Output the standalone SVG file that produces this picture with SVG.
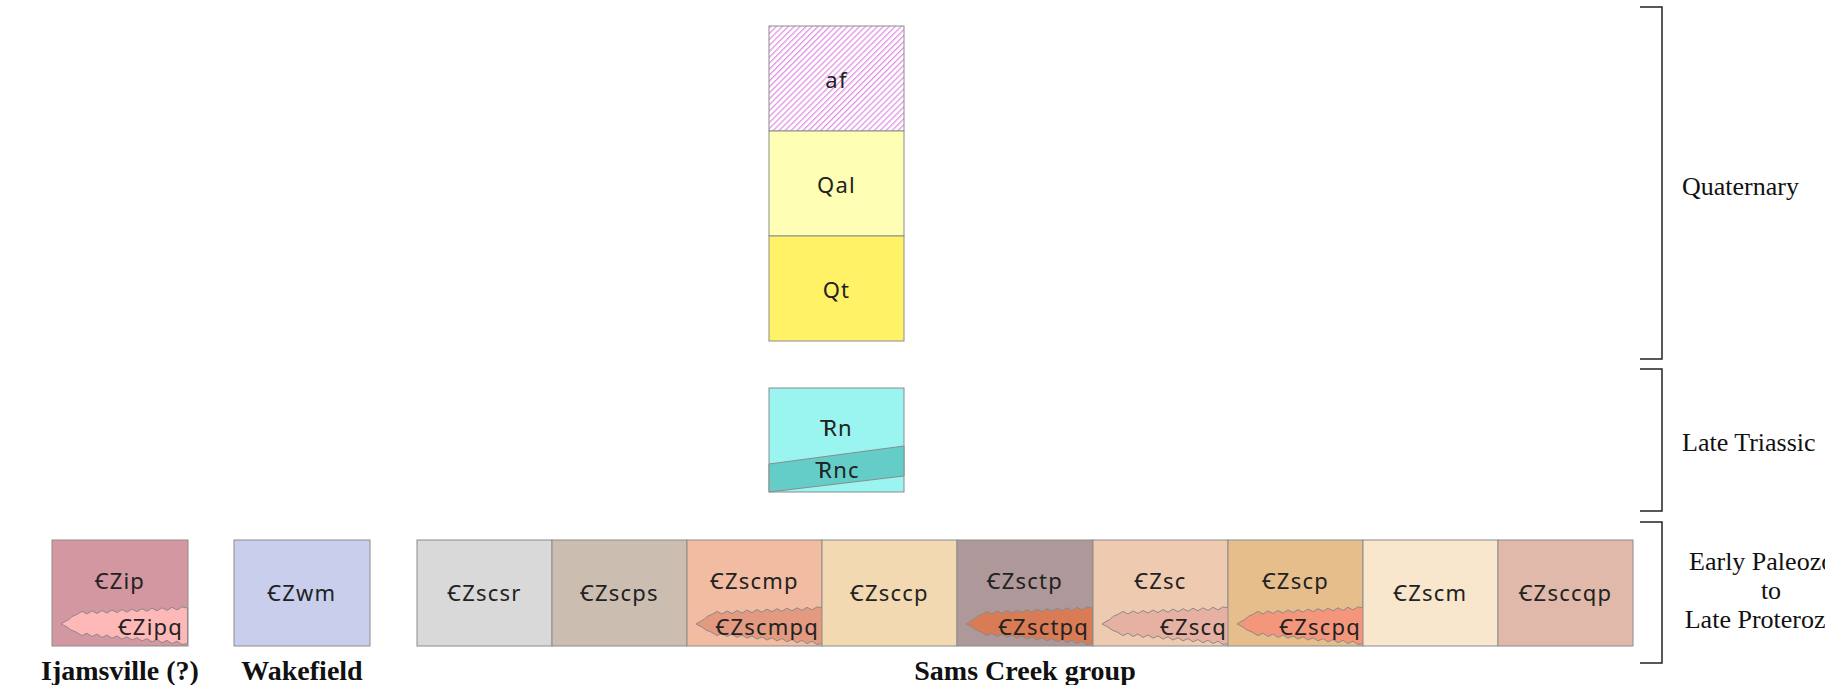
<svg xmlns="http://www.w3.org/2000/svg" xmlns:xlink="http://www.w3.org/1999/xlink" width="1825" height="685" viewBox="0 0 1825 685">
<style>
.box{stroke:#8c8c8c;stroke-width:1}
.lbl{font-family:"Noto Sans","DejaVu Sans",sans-serif;font-size:22px;fill:#222;text-anchor:middle;letter-spacing:1.2px}
.lq{font-family:"Noto Sans","DejaVu Sans",sans-serif;font-size:22px;fill:#222;text-anchor:end;letter-spacing:1.2px}
.grp{font-family:"Liberation Serif","Times New Roman",serif;font-size:28px;font-weight:bold;fill:#111;text-anchor:middle}
.age{font-family:"Liberation Serif","Times New Roman",serif;font-size:26px;fill:#111}
.brk{fill:none;stroke:#222;stroke-width:1.5}
.lens{stroke:#8a8a8a;stroke-width:1}
</style>
<defs>
<pattern id="hatch" width="4.2" height="4.2" patternUnits="userSpaceOnUse" patternTransform="rotate(45)">
<rect width="4.2" height="4.2" fill="#fff"/>
<line x1="0.6" y1="0" x2="0.6" y2="4.2" stroke="#e190e5" stroke-width="1.3"/>
</pattern>
<path id="lensShape" d="M9,84 L14,81 L17,79.5 L20,76.5 L25,74.4 L30,71.4 L35,74 L40,70.9 L45,73.5 L50,70.5 L55,73.1 L60,70 L65,72.6 L70,69.6 L75,72.2 L80,69.1 L85,71.7 L90,68.7 L95,71.3 L100,68.2 L105,70.8 L110,67.8 L115,70.4 L120,67.3 L125,69.9 L130,66.9 L135.5,68 L135.5,103.5 L130,104.5 L125,101.2 L120,103.6 L115,100.3 L110,102.7 L105,99.5 L100,101.8 L95,98.6 L90,100.9 L85,97.7 L80,100 L75,96.8 L70,99.1 L65,95.9 L60,98.2 L55,95 L50,97.4 L45,94.1 L40,96.5 L35,93.2 L30,95.6 L24,92 L19,90 L15,87 Z"/>
</defs>
<rect width="1825" height="685" fill="#fff"/>

<g id="connectors">
<path class="brk" d="M1640,7 H1662 V359 H1640"/>
<path class="brk" d="M1640,369 H1662 V511 H1640"/>
<path class="brk" d="M1640,522 H1662 V663 H1640"/>
</g>

<g id="af"><rect class="box" x="769" y="26" width="135" height="105" fill="url(#hatch)"/><text class="lbl" x="836.5" y="88">af</text></g>
<g id="Qal"><rect class="box" x="769" y="131" width="135" height="105" fill="#fefeb4"/><text class="lbl" x="836.5" y="193">Qal</text></g>
<g id="Qt"><rect class="box" x="769" y="236" width="135" height="105" fill="#fff266"/><text class="lbl" x="836.5" y="298">Qt</text></g>

<g id="TRn"><rect class="box" x="769" y="388" width="135" height="104" fill="#9af4ef"/><text class="lbl" x="836.5" y="436">T<tspan dx="-10.3">Rn</tspan></text></g>
<g id="TRnc"><path class="box" d="M769,464 L904,446 L904,476 L769,492 Z" fill="#64cdc8"/><text class="lbl" x="837.5" y="478">T<tspan dx="-10.3">Rnc</tspan></text></g>

<g id="CZip"><rect class="box" x="52" y="540" width="136" height="106" fill="#d297a0"/><use href="#lensShape" x="52" y="540" class="lens" fill="#ffb8b8"/><text class="lbl" x="120" y="589">ꞒZip</text><text class="lq" x="183" y="635">ꞒZipq</text></g>
<g id="CZwm"><rect class="box" x="234" y="540" width="136" height="106" fill="#c8ceec"/><text class="lbl" x="302" y="601">ꞒZwm</text></g>

<g id="CZscsr"><rect class="box" x="417" y="540" width="135" height="106" fill="#d9d9d9"/><text class="lbl" x="484.5" y="601">ꞒZscsr</text></g>
<g id="CZscps"><rect class="box" x="552" y="540" width="135" height="106" fill="#ccbdb1"/><text class="lbl" x="619.5" y="601">ꞒZscps</text></g>
<g id="CZscmp"><rect class="box" x="687" y="540" width="135" height="106" fill="#f2bca3"/><use href="#lensShape" x="687" y="540" class="lens" fill="#e39a80"/><text class="lbl" x="754.5" y="589">ꞒZscmp</text><text class="lq" x="819" y="635">ꞒZscmpq</text></g>
<g id="CZsccp"><rect class="box" x="822" y="540" width="135" height="106" fill="#f3d9b2"/><text class="lbl" x="889.5" y="601">ꞒZsccp</text></g>
<g id="CZsctp"><rect class="box" x="957" y="540" width="136" height="106" fill="#ae989a"/><use href="#lensShape" x="957" y="540" class="lens" fill="#d97c55"/><text class="lbl" x="1025" y="589">ꞒZsctp</text><text class="lq" x="1089" y="635">ꞒZsctpq</text></g>
<g id="CZsc"><rect class="box" x="1093" y="540" width="135" height="106" fill="#eecab0"/><use href="#lensShape" x="1093" y="540" class="lens" fill="#e6b1a3"/><text class="lbl" x="1160.5" y="589">ꞒZsc</text><text class="lq" x="1227" y="635">ꞒZscq</text></g>
<g id="CZscp"><rect class="box" x="1228" y="540" width="135" height="106" fill="#e6be8b"/><use href="#lensShape" x="1228" y="540" class="lens" fill="#f4967b"/><text class="lbl" x="1295.5" y="589">ꞒZscp</text><text class="lq" x="1361" y="635">ꞒZscpq</text></g>
<g id="CZscm"><rect class="box" x="1363" y="540" width="135" height="106" fill="#f8e6cd"/><text class="lbl" x="1430.5" y="601">ꞒZscm</text></g>
<g id="CZsccqp"><rect class="box" x="1498" y="540" width="135" height="106" fill="#e0b9ab"/><text class="lbl" x="1565.5" y="601">ꞒZsccqp</text></g>

<g id="group-labels">
<text class="grp" x="120" y="680">Ijamsville (?)</text>
<text class="grp" x="302" y="680">Wakefield</text>
<text class="grp" x="1025" y="680">Sams Creek group</text>
</g>
<g id="age-labels">
<text class="age" x="1682" y="195">Quaternary</text>
<text class="age" x="1682" y="451">Late Triassic</text>
<text class="age" x="1771" y="570" text-anchor="middle">Early Paleozoic</text>
<text class="age" x="1771" y="599" text-anchor="middle">to</text>
<text class="age" x="1771" y="628" text-anchor="middle">Late Proterozoic</text>
</g>
</svg>
